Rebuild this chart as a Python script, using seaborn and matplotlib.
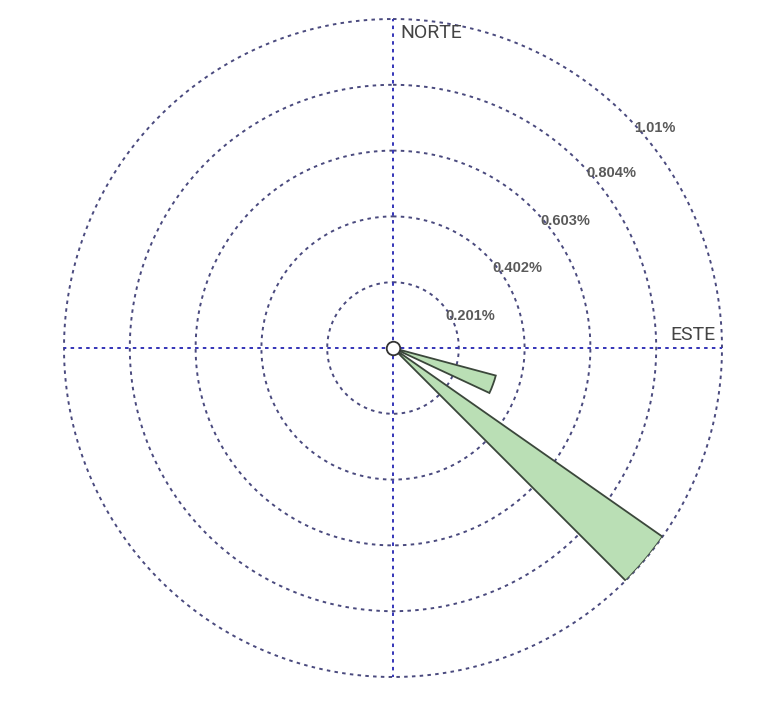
import numpy as np
import pandas as pd
import matplotlib
matplotlib.use("Agg")
import matplotlib.pyplot as plt
import seaborn as sns

# ---- data ----
directions_deg = [110, 130]          # sector centre bearings (deg, clockwise from north)
frequencies = [0.325, 1.005]         # frequency (%)
sector_width_deg = 10
ring_values = [0.201, 0.402, 0.603, 0.804, 1.005]
ring_labels = ["0.201%", "0.402%", "0.603%", "0.804%", "1.01%"]
axis_labels = ["NORTE", "ESTE"]

df = pd.DataFrame({"dir": directions_deg, "freq": frequencies})

sns.set_theme(style="white")
plt.rcParams["font.family"] = ["Roboto", "DejaVu Sans"]

W, H = 760, 705
fig = plt.figure(figsize=(W / 100, H / 100), dpi=100)
cx, cy, R = 393, 348, 329
ax = fig.add_axes([(cx - R) / W, (H - cy - R) / H, 2 * R / W, 2 * R / H], projection="polar")
ax.set_theta_zero_location("N")
ax.set_theta_direction(-1)
rmax = ring_values[-1]
ax.set_ylim(0, rmax)
ax.set_axis_off()

ring_color = "#4a4a7e"
cross_color = "#3434b8"
dash = (0, (1.8, 2.2))

# rings
th = np.linspace(0, 2 * np.pi, 721)
for rv in ring_values:
    ax.plot(th, np.full_like(th, rv), color=ring_color, lw=1.4, ls=dash, clip_on=False, zorder=1)

# cross lines
for ang in [0, 90, 180, 270]:
    ax.plot([np.deg2rad(ang)] * 2, [0, rmax], color=cross_color, lw=1.4, ls=dash, clip_on=False, zorder=1)

# wedges
ax.bar(np.deg2rad(df["dir"]), df["freq"], width=np.deg2rad(sector_width_deg), bottom=0,
       color="#badfb5", edgecolor="#3b473b", linewidth=1.3, zorder=3, align="center")

# centre marker
ax.scatter([0], [0], s=95, facecolor="white", edgecolor="#333333", linewidths=1.3, zorder=5, clip_on=False)

# ring labels
label_pos = [(67.4, 0.255), (57.2, 0.451), (53.6, 0.653), (51.3, 0.854), (50.0, 1.045)]
for (b, r), txt in zip(label_pos, ring_labels):
    ax.text(np.deg2rad(b), r, txt, ha="center", va="center", fontsize=10.5, fontweight="bold",
            family=["Liberation Sans", "DejaVu Sans"], color="#5a5a5a", zorder=6, clip_on=False)

fig.text(400 / W, 1 - 33 / H, axis_labels[0], ha="left", va="center", fontsize=14, color="#444444")
fig.text(693 / W, 1 - 335 / H, axis_labels[1], ha="center", va="center", fontsize=14, color="#444444")

fig.savefig("out.png", dpi=100, facecolor="white")
